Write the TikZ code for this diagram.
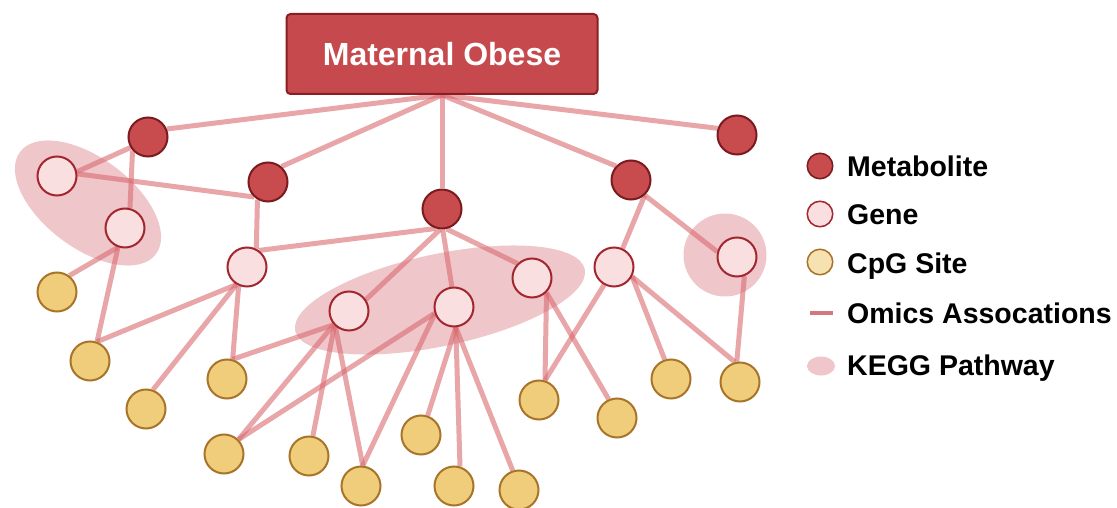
\documentclass[tikz,border=0pt]{standalone}
\usepackage{fontspec}
\setmainfont{Liberation Sans}
\usetikzlibrary{shapes.geometric}
\pgfdeclarelayer{keggl}
\pgfdeclarelayer{links}
\pgfsetlayers{keggl,links,main}
\definecolor{metfill}{HTML}{C84B4E}
\definecolor{metdraw}{HTML}{7A1B1F}
\definecolor{genefill}{HTML}{F9DFE0}
\definecolor{genedraw}{HTML}{A3262E}
\definecolor{cpgfill}{HTML}{F0CD7B}
\definecolor{cpgdraw}{HTML}{A7742A}
\definecolor{linkcol}{HTML}{D96A70}
\definecolor{keggcol}{HTML}{D8707A}
\definecolor{titlefill}{HTML}{C64A4D}
\definecolor{titledraw}{HTML}{8A1E22}
\definecolor{legline}{HTML}{D4787E}
\begin{document}
\begin{tikzpicture}[x=1pt,y=-1pt,
  met/.style={circle, fill=metfill, draw=metdraw, line width=2pt, minimum size=39pt, inner sep=0pt},
  gene/.style={circle, fill=genefill, draw=genedraw, line width=2pt, minimum size=39pt, inner sep=0pt},
  cpg/.style={circle, fill=cpgfill, draw=cpgdraw, line width=2pt, minimum size=39pt, inner sep=0pt},
  kegg/.style={ellipse, fill=keggcol, fill opacity=0.4, inner sep=0pt},
  link/.style={draw=linkcol, line width=5pt, opacity=0.6},
  legmet/.style={met, minimum size=25.5pt, line width=1.5pt},
  leggene/.style={gene, minimum size=25.5pt, line width=1.5pt},
  legcpg/.style={circle, fill=cpgfill!60!white, draw=cpgdraw, minimum size=25.5pt, line width=1.5pt, inner sep=0pt},
  legtext/.style={anchor=base west, inner sep=0pt, font=\fontsize{28.5}{34}\selectfont\bfseries, text=black},
  titlebox/.style={rectangle, rounded corners=4pt, fill=titlefill, draw=titledraw, line width=2pt,
    minimum width=311pt, minimum height=80pt, text=white, font=\fontsize{32}{38}\selectfont\bfseries}
]
\useasboundingbox (0,0) rectangle (1117,508);

% title
\node[titlebox] (title) at (442,54) {Maternal Obese};

% metabolites
\node[met] (M1) at (148,137) {};
\node[met] (M2) at (268,182) {};
\node[met] (M3) at (442,209) {};
\node[met] (M4) at (631,180) {};
\node[met] (M5) at (737,135) {};

% genes
\node[gene] (G1) at (57,176) {};
\node[gene] (G2) at (125,228) {};
\node[gene] (G3) at (247,267) {};
\node[gene] (G4) at (349,311) {};
\node[gene] (G5) at (454,307) {};
\node[gene] (G6) at (532,278) {};
\node[gene] (G7) at (614,267) {};
\node[gene] (G8) at (737,257) {};

% CpG sites
\node[cpg] (C1) at (57,292) {};
\node[cpg] (C2) at (90,361) {};
\node[cpg] (C3) at (146,409) {};
\node[cpg] (C4) at (227,379) {};
\node[cpg] (C5) at (224,454) {};
\node[cpg] (C6) at (309,456) {};
\node[cpg] (C7) at (361,486) {};
\node[cpg] (C8) at (421,435) {};
\node[cpg] (C9) at (454,486) {};
\node[cpg] (C10) at (519,490) {};
\node[cpg] (C11) at (539,400) {};
\node[cpg] (C12) at (617,418) {};
\node[cpg] (C13) at (671,379) {};
\node[cpg] (C14) at (740,382) {};

% KEGG pathways
\begin{pgfonlayer}{keggl}
\node[kegg, minimum width=170pt, minimum height=90pt, rotate=-37] (K1) at (88,203) {};
\node[kegg, minimum width=296pt, minimum height=92pt, rotate=12] (K2) at (440,300) {};
\node[kegg, minimum width=83pt, minimum height=83pt] (K3) at (725,255) {};
\end{pgfonlayer}

% associations
\begin{pgfonlayer}{links}
\foreach \a/\b in {title.south/M1.23, title.south/M2.49, title.south/M3.90, title.south/M4.137, title.south/M5.161,
  G1.12/M1.211, M1.221/G2.76, G1.6/M2.227, M2.239/G3.63,
  G3.54/M3.252, M3.265/G4.34, M3.272/G5.96, M3.283/G6.135,
  G2.250/C1.53, G2.250/C2.70, G3.239/C2.70, G3.239/C3.70, G3.246/C4.74,
  G4.222/C4.74, G4.222/C5.45, G5.198/C5.45, G4.225/C6.79, G4.228/C7.85, G5.200/C7.85,
  G5.275/C8.71, G5.275/C9.73, G5.275/C10.108,
  G6.315/C11.73, G6.315/C12.114, G7.241/C11.73, G7.332/C13.108, G7.332/C14.104,
  M4.312/G7.65, M4.312/G8.165, G8.291/C14.99}
  \draw[link] (\a) -- (\b);
\end{pgfonlayer}

% legend
\node[legmet] (Lmet) at (820,166) {};
\node[leggene] (Lgene) at (820,214) {};
\node[legcpg] (Lcpg) at (820,262) {};
\coordinate (LlineA) at (810,313);
\coordinate (LlineB) at (833,313);
\draw[draw=legline, line width=4pt] (LlineA) -- (LlineB);
\node[ellipse, fill=keggcol, fill opacity=0.4, minimum width=28pt, minimum height=19pt, inner sep=0pt] (Lkegg) at (821,366) {};
\node[legtext] (Tmet) at (847,176) {Metabolite};
\node[legtext] (Tgene) at (847,224) {Gene};
\node[legtext] (Tcpg) at (847,273) {CpG Site};
\node[legtext] (Tomics) at (847,323) {Omics Assocations};
\node[legtext] (Tkegg) at (847,375) {KEGG Pathway};
\end{tikzpicture}
\end{document}
